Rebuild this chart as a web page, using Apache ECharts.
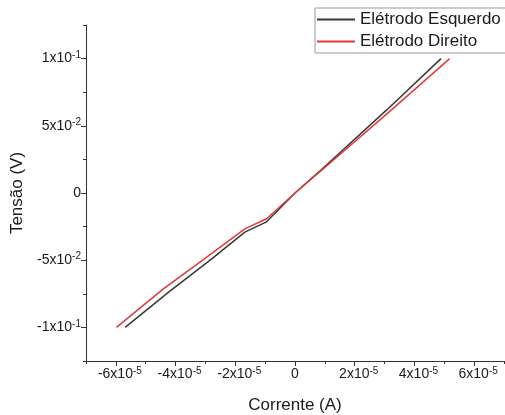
<!DOCTYPE html>
<html>
<head>
<meta charset="utf-8">
<script src="https://cdn.jsdelivr.net/npm/echarts@6/dist/echarts.min.js"></script>
<style>
  html, body { margin: 0; padding: 0; background: #fff; }
  #chart { width: 505px; height: 415px; }
</style>
</head>
<body>
<div id="chart"></div>
<script>
// I-V sweep of the two electrodes: current (A) vs voltage (V)
const seriesNames = ['Elétrodo Esquerdo', 'Elétrodo Direito'];

const leftCurrent = [-5.69e-5, -4.19e-5, -2.80e-5, -1.68e-5, -0.97e-5, 0, 0.89e-5, 3.08e-5, 4.89e-5];
const leftVoltage = [-0.100, -0.073, -0.0492, -0.0291, -0.0217, 0, 0.0175, 0.062, 0.100];

const rightCurrent = [-5.98e-5, -4.42e-5, -3.08e-5, -1.68e-5, -0.95e-5, 0, 1.0e-5, 3.24e-5, 5.18e-5];
const rightVoltage = [-0.100, -0.0715, -0.0497, -0.0267, -0.0192, 0, 0.019, 0.062, 0.100];

const xTicks = [-6e-5, -4e-5, -2e-5, 0, 2e-5, 4e-5, 6e-5];
const yTicks = [-0.1, -0.05, 0, 0.05, 0.1];
const xRange = [-7e-5, 7e-5];
const yRange = [-0.125, 0.125];
const xMinorStep = 1e-5;
const yMinorStep = 0.025;

function pairs(xs, ys) { return xs.map((x, i) => [x, ys[i]]); }

// "5x10^-2" style labels with a raised exponent
function sciLabel(v) {
  if (Math.abs(v) < 1e-15) return '{m|0}';
  const exp = Math.floor(Math.log10(Math.abs(v)) + 1e-9);
  const mant = Math.round(v / Math.pow(10, exp));
  return '{m|' + mant + 'x10}{e|' + exp + '}';
}
// same, but centred on the mantissa (a blank spacer balances the exponent)
function sciLabelCentred(v) {
  if (Math.abs(v) < 1e-15) return '{m|0}';
  return '{sp|}' + sciLabel(v);
}

const FONT = 'Liberation Sans, Arial, sans-serif';
const AXIS_COLOR = '#333';
const TEXT_COLOR = '#1a1a1a';
const richLabel = {
  m: { fontSize: 14, color: TEXT_COLOR, fontFamily: FONT, lineHeight: 17 },
  e: { fontSize: 10, color: TEXT_COLOR, fontFamily: FONT, lineHeight: 10, verticalAlign: 'top' },
  sp: { width: 8, fontSize: 10 }
};

const chart = echarts.init(document.getElementById('chart'), null, { renderer: 'canvas' });

chart.setOption({
  animation: false,
  backgroundColor: '#fff',
  grid: { left: 86, right: 1, top: 25, bottom: 54, containLabel: false, outerBoundsMode: 'none' },
  legend: {
    left: 315, top: 8,
    orient: 'vertical',
    padding: [2, 10, 2, 2],
    itemGap: 3,
    itemWidth: 38, itemHeight: 2,
    icon: 'rect',
    borderColor: '#999', borderWidth: 1,
    backgroundColor: '#fff',
    textStyle: { fontSize: 17, lineHeight: 19, color: TEXT_COLOR, fontFamily: FONT },
    data: seriesNames
  },
  xAxis: [
    {
      type: 'value', min: xRange[0], max: xRange[1],
      name: 'Corrente (A)', nameLocation: 'middle', nameGap: 36,
      nameTextStyle: { fontSize: 17, color: TEXT_COLOR, fontFamily: FONT },
      axisLine: { onZero: false, lineStyle: { color: AXIS_COLOR, width: 1 } },
      axisTick: { show: true, inside: false, length: 5, customValues: xTicks, lineStyle: { color: AXIS_COLOR } },
      axisLabel: { customValues: xTicks, margin: 5, formatter: sciLabelCentred, rich: richLabel },
      splitLine: { show: false }
    },
    {
      // minor ticks only
      type: 'value', min: xRange[0], max: xRange[1], interval: xMinorStep,
      position: 'bottom', offset: 0,
      axisLine: { show: false, onZero: false },
      axisTick: { show: true, inside: false, length: 3, lineStyle: { color: AXIS_COLOR } },
      axisLabel: { show: false },
      splitLine: { show: false }
    }
  ],
  yAxis: [
    {
      type: 'value', min: yRange[0], max: yRange[1],
      name: 'Tensão (V)', nameLocation: 'middle', nameGap: 47,
      nameTextStyle: { fontSize: 17, color: TEXT_COLOR, fontFamily: FONT },
      axisLine: { onZero: false, lineStyle: { color: AXIS_COLOR, width: 1 } },
      axisTick: { show: true, inside: false, length: 5, customValues: yTicks, lineStyle: { color: AXIS_COLOR } },
      axisLabel: { customValues: yTicks, margin: 5, formatter: sciLabel, rich: richLabel },
      splitLine: { show: false }
    },
    {
      // minor ticks only
      type: 'value', min: yRange[0], max: yRange[1], interval: yMinorStep,
      position: 'left', offset: 0,
      axisLine: { show: false, onZero: false },
      axisTick: { show: true, inside: false, length: 3, lineStyle: { color: AXIS_COLOR } },
      axisLabel: { show: false },
      splitLine: { show: false }
    }
  ],
  series: [
    {
      name: seriesNames[0], type: 'line', xAxisIndex: 0, yAxisIndex: 0,
      data: pairs(leftCurrent, leftVoltage),
      showSymbol: false, smooth: false,
      color: '#383838',
      lineStyle: { color: '#383838', width: 1.5 }
    },
    {
      name: seriesNames[1], type: 'line', xAxisIndex: 0, yAxisIndex: 0,
      data: pairs(rightCurrent, rightVoltage),
      showSymbol: false, smooth: false,
      color: '#e8353a',
      lineStyle: { color: '#e8353a', width: 1.5 }
    }
  ]
});
</script>
</body>
</html>
